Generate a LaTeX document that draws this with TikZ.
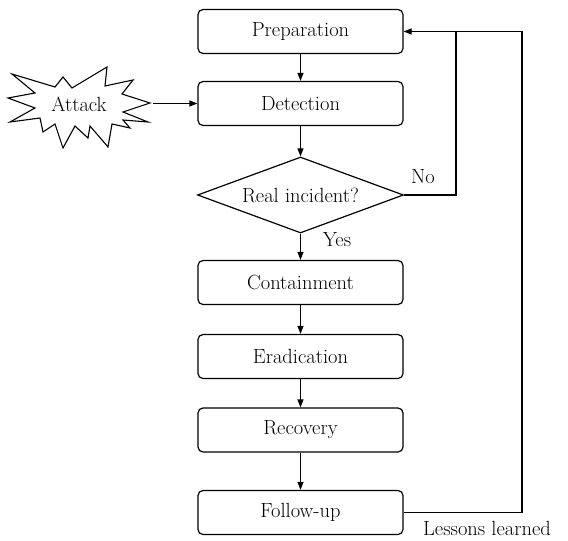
\documentclass[tikz,border=0pt]{standalone}
\usetikzlibrary{arrows.meta,shapes.geometric}
\begin{document}
\begin{tikzpicture}[x=1pt,y=-1pt,line width=1.2pt,
  txt/.style={font=\fontsize{20.5}{24}\selectfont},
  stage/.style={txt,draw,rounded corners=5pt,minimum width=205pt,minimum height=44pt,inner sep=0pt},
  decision/.style={txt,draw,diamond,aspect=2.7,minimum width=206pt,minimum height=76pt,inner sep=0pt},
  flow/.style={-{Triangle[length=8pt,width=6pt]}}]
\useasboundingbox (0,0) rectangle (568,541);

% process stages
\node[stage] (prep) at (300.5,31.5) {Preparation};
\node[stage] (det)  at (300.5,103.5) {Detection};
\node[decision] (real) at (300.5,195) {Real incident?};
\node[stage] (cont) at (300.5,282.5) {Containment};
\node[stage] (erad) at (300.5,356.5) {Eradication};
\node[stage] (rec)  at (300.5,430) {Recovery};
\node[stage] (fu)   at (300.5,512.5) {Follow-up};

% attack starburst
\draw[line width=1.1pt,line join=miter]
  (8,98) -- (35,93) -- (12,74) -- (55,87) -- (63,77) -- (72,88) -- (107,67)
  -- (105,86) -- (133,80) -- (122,94) -- (150,103) -- (123,112) -- (148,122)
  -- (123,120) -- (130,128) -- (112,124) -- (108,147) -- (90,126) -- (88,138)
  -- (75,126) -- (63,148) -- (55,124) -- (43,132) -- (40,118) -- (10,122)
  -- (35,108) -- cycle;
\node[txt] (atk) at (79,104) {Attack};
\coordinate (atkout) at (153,103.5);

% main flow
\draw[flow] (prep) -- (det);
\draw[flow] (atkout) -- (det.west);
\draw[flow] (det) -- (real);
\draw[flow] (real) -- (cont);
\draw[flow] (cont) -- (erad);
\draw[flow] (erad) -- (rec);
\draw[flow] (rec) -- (fu);

% feedback paths
\coordinate (noTop) at (456,31.5);
\coordinate (lessTop) at (522,31.5);
\draw (real.east) -| (noTop);
\draw[flow] (fu.east) -| (lessTop) |- (prep.east);

% labels
\node[txt] (no) at (423,177) {No};
\node[txt] (yes) at (337,240) {Yes};
\node[txt] (lessons) at (487,528) {Lessons learned};
\end{tikzpicture}
\end{document}
